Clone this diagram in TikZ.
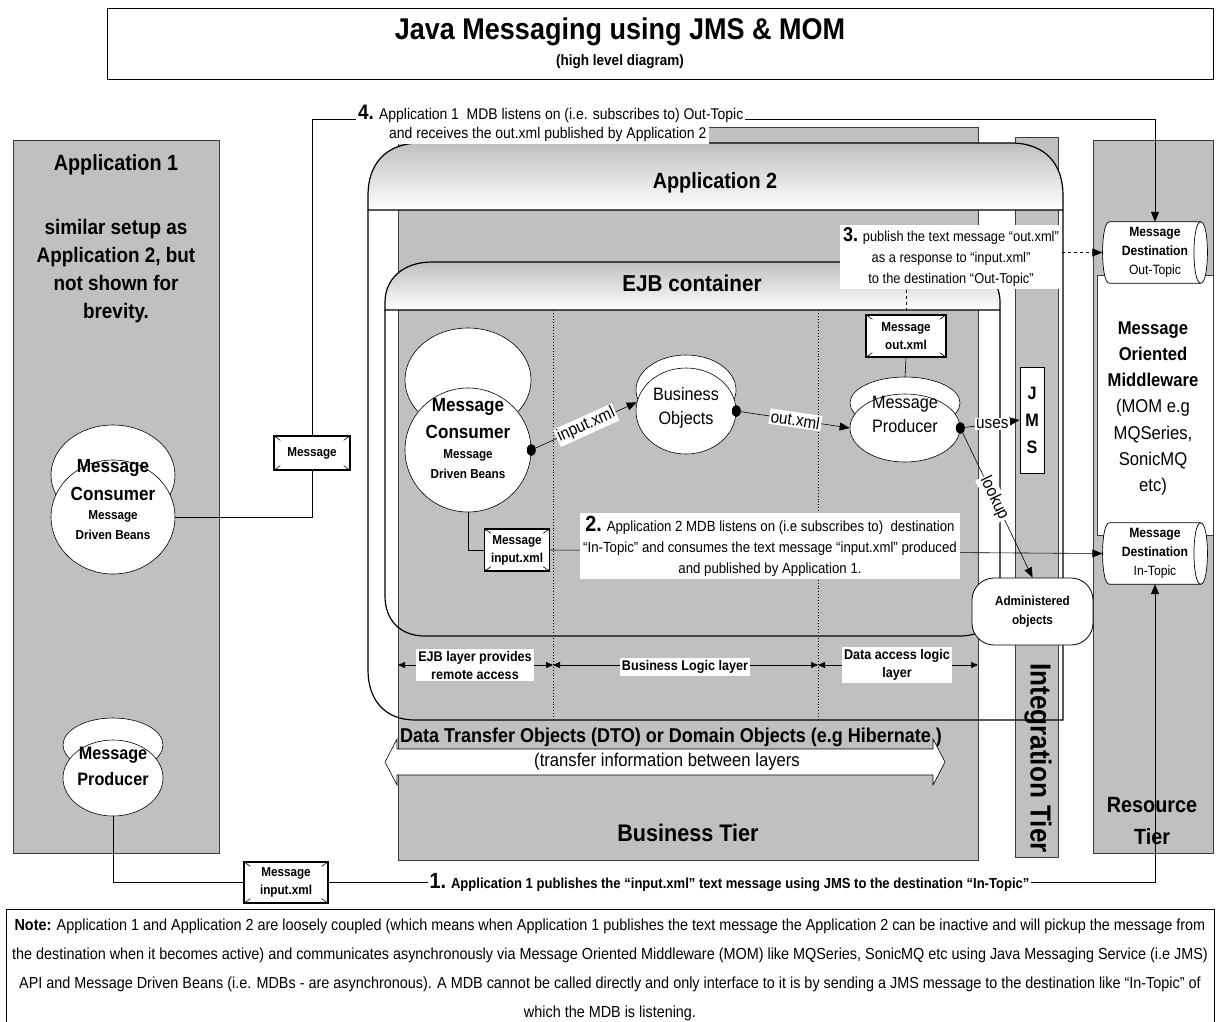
\documentclass[tikz,border=0pt]{standalone}
\usepackage{fontspec}
\setmainfont[FakeStretch=0.9]{Liberation Sans}
\usetikzlibrary{shapes.geometric,arrows.meta,calc}
\definecolor{tier}{HTML}{C0C0C0}
\definecolor{edge}{HTML}{3C3C3C}
\newcommand\fs[2]{\fontsize{#1}{#2}\selectfont}
\newcommand\envcorners[1]{%
  \draw[line width=0.6pt,{Stealth[length=3pt,width=3pt]}-] (#1.north west) -- ++(7,5);
  \draw[line width=0.6pt,{Stealth[length=3pt,width=3pt]}-] (#1.north east) -- ++(-7,5);
  \draw[line width=0.6pt,{Stealth[length=3pt,width=3pt]}-] (#1.south west) -- ++(7,-5);
  \draw[line width=0.6pt,{Stealth[length=3pt,width=3pt]}-] (#1.south east) -- ++(-7,-5);}
\newcommand\destshape[1]{%
  \draw[fill=white,line width=0.7pt]
    ($(#1.north west)+(7,0)$) -- ($(#1.north east)+(-7,0)$)
    .. controls ($(#1.north east)+(2,0)$) and ($(#1.south east)+(2,0)$) .. ($(#1.south east)+(-7,0)$)
    -- ($(#1.south west)+(7,0)$)
    .. controls ($(#1.south west)+(-2,0)$) and ($(#1.north west)+(-2,0)$) .. ($(#1.north west)+(7,0)$) -- cycle;
  \draw[line width=0.7pt] ($(#1.north east)+(-7,0)$)
    .. controls ($(#1.north east)+(-16,0)$) and ($(#1.south east)+(-16,0)$) .. ($(#1.south east)+(-7,0)$);}
\begin{document}
\begin{tikzpicture}[x=1pt,y=-1pt,
  tierbox/.style={draw=edge,fill=tier,line width=0.8pt,inner sep=0},
  ell/.style={ellipse,draw,fill=white,line width=0.6pt,inner sep=0},
  blackdot/.style={ellipse,fill=black,minimum width=9pt,minimum height=12pt,inner sep=0},
  lbl/.style={fill=white,inner sep=2pt},
  arr/.style={-{Triangle[length=10pt,width=8pt]},line width=0.6pt},
  msgbox/.style={draw,fill=white,line width=1.3pt,align=center,font=\bfseries\fs{13}{18},inner sep=0},
  conn/.style={line width=0.6pt},
  layarr/.style={{Triangle[length=7pt,width=6pt]}-{Triangle[length=7pt,width=6pt]},line width=0.6pt},
  laylbl/.style={fill=white,align=center,font=\bfseries\fs{14}{18},inner sep=2pt},
  hdr/.style={draw,line width=1.2pt,top color=black!25,bottom color=white},
  outline/.style={draw,line width=1.2pt},
]
\useasboundingbox (0,0) rectangle (1220,1021);
\fill[white] (0,0) rectangle (1220,1021);

% title
\node[draw,line width=1pt,minimum width=1106pt,minimum height=71pt,inner sep=0] (titlebox) at (660,43.5) {};
\node[font=\bfseries\fs{30}{30}] (title) at (620,32) {Java Messaging using JMS \& MOM};
\node[font=\bfseries\fs{15}{15}] (subtitle) at (620,62) {(high level diagram)};

% tiers
\node[tierbox,minimum width=206pt,minimum height=713pt] (app1) at (116,496.5) {};
\node[tierbox,minimum width=580pt,minimum height=733pt] (btier) at (688,493.5) {};
\node[tierbox,minimum width=43pt,minimum height=720pt] (itierbox) at (1036.5,497) {};
\node[tierbox,minimum width=120pt,minimum height=713pt] (rtier) at (1153,496.5) {};
\node[draw=edge,fill=white,line width=0.8pt,minimum width=116pt,minimum height=260pt,inner sep=0] (mom) at (1155,405) {};

% application 1 texts
\node[font=\bfseries\fs{22}{22}] (app1t) at (116,165) {Application 1};
\node[font=\bfseries\fs{21}{28},align=center] (app1d) at (116,271) {similar setup as\\Application 2, but\\not shown for\\brevity.};

% application 2 frame
\draw[outline] (368,210) -- (368,670) .. controls (368,700) and (385,720) .. (415,720) -- (1063,720) -- (1063,210);
\path[hdr] (368,210) -- (368,195) .. controls (368,165) and (385,143) .. (420,143) -- (1011,143) .. controls (1046,143) and (1063,165) .. (1063,195) -- (1063,210) -- cycle;
\node[font=\bfseries\fs{22}{22}] (app2t) at (715,183) {Application 2};

% EJB container frame
\draw[outline] (385,310) -- (385,596) .. controls (385,620) and (400,636) .. (425,636) -- (960,636) .. controls (985,636) and (1000,620) .. (1000,596) -- (1000,310);
\path[hdr] (385,310) -- (385,302) .. controls (385,280) and (402,262) .. (432,262) -- (953,262) .. controls (983,262) and (1000,280) .. (1000,302) -- (1000,310) -- cycle;
\node[font=\bfseries\fs{23}{23}] (ejbt) at (692,283) {EJB container};

% layer dividers
\draw[dotted,line width=0.9pt] (553,310) -- (553,720);
\draw[dotted,line width=0.9pt] (818,310) -- (818,720);

% destinations
\node[minimum width=105pt,minimum height=61pt,inner sep=0] (otopic) at (1155,252.5) {};
\destshape{otopic}
\node[align=center,font=\fs{13.5}{19}] (otopict) at (otopic.center) {\textbf{Message}\\\textbf{Destination}\\Out-Topic};
\node[minimum width=105pt,minimum height=61pt,inner sep=0] (itopic) at (1155,553.5) {};
\destshape{itopic}
\node[align=center,font=\fs{13.5}{19}] (itopict) at (itopic.center) {\textbf{Message}\\\textbf{Destination}\\In-Topic};

% MOM text
\node[align=center,font=\fs{18.5}{26.2}] (momt) at (1153,408.5) {\textbf{Message}\\\textbf{Oriented}\\\textbf{Middleware}\\(MOM e.g\\MQSeries,\\SonicMQ\\etc)};
\node[align=center,font=\bfseries\fs{22}{32}] (rtiert) at (1152,821) {Resource\\Tier};
\node[rotate=-90,font=\bfseries\fs{29}{29}] (itiert) at (1038,758) {Integration Tier};
\node[font=\bfseries\fs{24}{24}] (btiert) at (688,833) {Business Tier};

% JMS
\node[draw,fill=white,line width=0.8pt,minimum width=24pt,minimum height=106pt,align=center,font=\bfseries\fs{18}{27},inner sep=0] (jms) at (1032,420) {J\\M\\S};

% administered objects
\node[draw,fill=white,rounded corners=22pt,line width=0.8pt,minimum width=121pt,minimum height=67pt,align=center,font=\bfseries\fs{13}{19}] (adm) at (1032.5,611.5) {Administered\\objects};

% application 1 consumer and producer
\node[ell,minimum width=124pt,minimum height=100pt] (c1top) at (113,475) {};
\node[ell,minimum width=124pt,minimum height=114pt] (c1) at (113,517) {};
\node[font=\bfseries\fs{19}{19}] (c1t1) at (113,468) {Message};
\node[font=\bfseries\fs{19}{19}] (c1t2) at (113,494) {Consumer};
\node[font=\bfseries\fs{13}{13}] (c1t3) at (113,516) {Message};
\node[font=\bfseries\fs{13}{13}] (c1t4) at (113,535) {Driven Beans};

\node[ell,minimum width=100pt,minimum height=54pt] (p1top) at (113,745) {};
\node[ell,minimum width=100pt,minimum height=76pt] (p1) at (113,778) {};
\node[font=\bfseries\fs{18}{18}] (p1t1) at (113,755) {Message};
\node[font=\bfseries\fs{18}{18}] (p1t2) at (113,779) {Producer};

% application 2 consumer
\node[ell,minimum width=126pt,minimum height=104pt] (c2top) at (468,380) {};
\node[ell,minimum width=126pt,minimum height=124pt] (c2) at (468,450) {};
\node[font=\bfseries\fs{19}{19}] (c2t1) at (468,407) {Message};
\node[font=\bfseries\fs{19}{19}] (c2t2) at (468,432) {Consumer};
\node[font=\bfseries\fs{13}{13}] (c2t3) at (468,455) {Message};
\node[font=\bfseries\fs{13}{13}] (c2t4) at (468,474) {Driven Beans};
\node[blackdot] (c2d) at (c2.east) {};

% business objects
\node[ell,minimum width=100pt,minimum height=70pt] (botop) at (686,390) {};
\node[ell,minimum width=100pt,minimum height=86pt] (bo) at (686,411) {};
\node[align=center,font=\fs{18}{24}] (bot) at (686,408) {Business\\Objects};
\node[blackdot] (bod) at (bo.east) {};

% message producer
\node[ell,minimum width=110pt,minimum height=52pt] (prtop) at (905,403) {};
\node[ell,minimum width=110pt,minimum height=68pt] (pr) at (905,428) {};
\node[align=center,font=\fs{18}{24}] (prt) at (905,414) {Message\\Producer};
\node[blackdot] (prd) at (pr.east) {};

% message boxes
\node[msgbox,minimum width=76pt,minimum height=34pt] (m1) at (312,453) {Message};
\envcorners{m1}
\node[msgbox,minimum width=80pt,minimum height=42pt] (mout) at (906,336) {Message\\out.xml};
\envcorners{mout}
\node[msgbox,minimum width=65pt,minimum height=42pt] (min) at (517,550) {Message\\input.xml};
\envcorners{min}
\node[msgbox,minimum width=84pt,minimum height=41pt] (min1) at (286,882.5) {Message\\input.xml};
\envcorners{min1}

% connectors inside application 2
\draw[arr] (c2d) -- node[lbl,sloped,font=\fs{17}{17},inner sep=1.5pt] (linp) {input.xml} (bo.170);
\draw[arr] (bod) -- node[lbl,sloped,font=\fs{17}{17},inner sep=1.5pt] (lout) {out.xml} (pr.west);
\draw[arr] (prd) -- node[lbl,font=\fs{17}{17},inner sep=1.5pt] (luses) {uses} (jms.west);
\draw[arr] (prd) -- node[lbl,sloped,pos=0.45,font=\fs{17}{17},inner sep=1.5pt] (llook) {lookup} (adm.north);
\draw[conn] (mout.south) -- (prtop.north);

% label 3
\node[lbl,align=center,font=\fs{14.3}{21},inner sep=3pt] (l3) at (951,257) {{\bfseries\fs{20}{20}3.} publish the text message “out.xml”\\as a response to “input.xml”\\to the destination “Out-Topic”};
\draw[conn,dashed] (l3.south -| mout.north) -- (mout.north);
\draw[arr,dashed] (l3.east |- otopic.west) -- (otopic.west);

% step 2
\draw[conn] (c2.south) |- (min.west);
\draw[arr] (min.east) -- (itopic.west);
\node[lbl,align=center,font=\fs{14.7}{21},inner sep=3pt] (l2) at (770,546) {{\bfseries\fs{22}{22}2.} Application 2 MDB listens on (i.e subscribes to)\ \ destination\\“In-Topic” and consumes the text message “input.xml” produced\\and published by Application 1.};

% step 4
\coordinate (c4) at (1155,119);
\draw[conn] (c1.east) -| (m1.south);
\draw[arr] (m1.north) |- (c4) -- (otopic.north);
\node[lbl,anchor=base west,font=\fs{15.5}{16},inner sep=2pt] (l4a) at (356,119) {{\bfseries\fs{21}{21}4.} Application 1\ \ MDB listens on (i.e. subscribes to) Out-Topic};
\node[lbl,anchor=base west,font=\fs{15.5}{16},inner sep=3pt] (l4b) at (386,138) {and receives the out.xml published by Application 2\hspace{12pt}};

% step 1
\draw[conn] (p1.south) |- (min1.west);
\draw[arr] (min1.east) -| (itopic.south);
\node[lbl,anchor=west,font=\bfseries\fs{14.5}{16},inner sep=1.5pt] (l1) at (428,882) {{\fs{22}{22}1.} Application 1 publishes the “input.xml” text message using JMS to the destination “In-Topic”};

% layers
\coordinate (lb) at (398,665);
\coordinate (ld1) at (553,665);
\coordinate (ld2) at (818,665);
\coordinate (lr) at (978,665);
\draw[layarr] (lb) -- (ld1);
\draw[layarr] (ld1) -- (ld2);
\draw[layarr] (ld2) -- (lr);
\node[laylbl] (lay1) at (475,665) {EJB layer provides\\remote access};
\node[laylbl] (lay2) at (685,667) {Business Logic layer};
\node[laylbl] (lay3) at (897,665) {Data access logic\\layer};

% DTO
\node[font=\bfseries\fs{20}{20}] (dto) at (671,737) {Data Transfer Objects (DTO) or Domain Objects (e.g Hibernate )};
\draw[fill=white,line width=0.6pt] (385,762) -- (397,739) -- (397,749) -- (933,749) -- (933,739) -- (945,762) -- (933,785) -- (933,775) -- (397,775) -- (397,785) -- cycle;
\node[font=\fs{18.5}{18.5}] (dtot) at (667,762) {(transfer information between layers};

% note
\node[draw,line width=1pt,minimum width=1208pt,minimum height=116pt,inner sep=0] (notebox) at (610,967) {};
\node[align=center,font=\fs{16}{29}] (note) at (610,969.5) {\textbf{Note:} Application 1 and Application 2 are loosely coupled (which means when Application 1 publishes the text message the Application 2 can be inactive and will pickup the message from\\the destination when it becomes active) and communicates asynchronously via Message Oriented Middleware (MOM) like MQSeries, SonicMQ etc using Java Messaging Service (i.e JMS)\\API and Message Driven Beans (i.e. MDBs - are asynchronous). A MDB cannot be called directly and only interface to it is by sending a JMS message to the destination like “In-Topic” of\\which the MDB is listening.};
\end{tikzpicture}
\end{document}
